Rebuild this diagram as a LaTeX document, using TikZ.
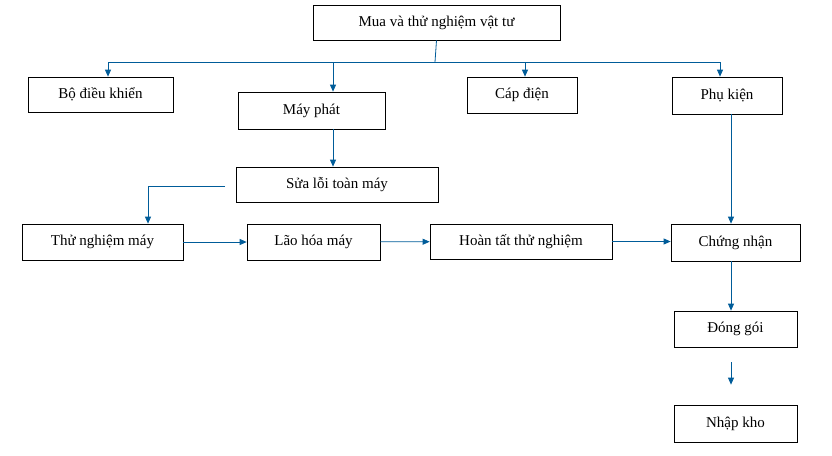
\documentclass[tikz,border=0pt]{standalone}
\usepackage{fontspec}
\setmainfont{Liberation Serif}
\usetikzlibrary{arrows.meta}
\begin{document}
\begin{tikzpicture}[x=1pt,y=-1pt,
  box/.style={draw,line width=0.7pt,inner sep=0pt,font=\fontsize{15}{18}\selectfont},
  con/.style={draw=blue!40!cyan!60!black,line width=0.8pt},
  arr/.style={con,-{Triangle[width=6pt,length=7pt]}}]
\useasboundingbox (0,0) rectangle (832,455);
\newcommand\bx[6]{\node[box,minimum width={#4-#2},minimum height={#5-#3}] (#1) at ({(#2+#4)/2},{(#3+#5)/2}) {#6};}
\bx{top}{313}{5}{560}{40}{Mua và thử nghiệm vật tư}
\bx{bdk}{28}{77}{173}{112}{Bộ điều khiển}
\bx{mp}{238}{92}{385}{129}{Máy phát}
\bx{cd}{467}{77}{577}{113}{Cáp điện}
\bx{pk}{672}{77}{782}{114}{Phụ kiện}
\bx{sl}{236}{167}{438}{202}{Sửa lỗi toàn máy}
\bx{tn}{22}{224}{183}{260}{Thử nghiệm máy}
\bx{lh}{247}{224}{380}{260}{Lão hóa máy}
\bx{ht}{430}{224}{612}{259}{Hoàn tất thử nghiệm}
\bx{cn}{671}{224}{800}{261}{Chứng nhận}
\bx{dg}{674}{311}{797}{347}{Đóng gói}
\bx{nk}{674}{405}{797}{442}{Nhập kho}
\coordinate (bar) at (435,62);
\draw[con] (top.south) -- (bar);
\draw[con] (108,62) -- (720,62);
\draw[arr] (108,62) -- (bdk.north -| 108,0);
\draw[arr] (333,62) -- (mp.north -| 333,0);
\draw[arr] (525,62) -- (cd.north -| 525,0);
\draw[arr] (720,62) -- (pk.north -| 720,0);
\draw[arr] (mp.south -| 333,0) -- (sl.north -| 333,0);
\coordinate (sls) at (225,186);
\draw[arr] (sls) -- (148,186) -- (tn.north -| 148,0);
\draw[arr] (tn) -- (lh);
\draw[arr] (lh) -- (ht);
\draw[arr] (ht.east) -- (ht.east -| cn.west);
\draw[arr] (pk.south -| 731,0) -- (cn.north -| 731,0);
\draw[arr] (cn.south -| 731,0) -- (dg.north -| 731,0);
\draw[arr,shorten <=15pt,shorten >=20pt] (dg.south -| 731,0) -- (nk.north -| 731,0);
\end{tikzpicture}
\end{document}
